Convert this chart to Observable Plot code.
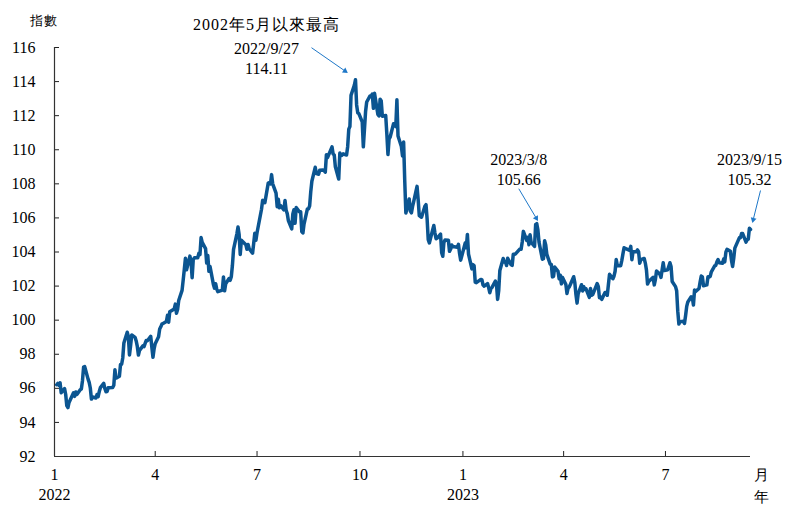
<!DOCTYPE html>
<html>
<head>
<meta charset="utf-8">
<script src="https://cdn.jsdelivr.net/npm/d3@7"></script>
<script src="https://cdn.jsdelivr.net/npm/@observablehq/plot@0.6"></script>
<style>
  html, body { margin: 0; padding: 0; background: #fff; }
  #chart svg, #chart svg text { font-family: "Liberation Serif", Tinos, "Times New Roman", Times, serif !important; }
  #chart svg text.cjk { letter-spacing: 1px; }
</style>
</head>
<body>
<div id="chart"></div>
<script>
// ---------- data (US dollar index, daily close) ----------
const series2022 = [
  ["01-03",96.21],["01-04",96.29],["01-05",96.18],["01-06",96.32],["01-07",95.74],["01-10",95.99],["01-11",95.64],["01-12",94.98],["01-13",94.87],["01-14",95.17],["01-18",95.74],["01-19",95.53],["01-20",95.79],["01-21",95.64],["01-24",95.92],["01-25",95.96],["01-26",96.45],["01-27",97.24],["01-28",97.27],["01-31",96.54],
  ["02-01",96.35],["02-02",96.02],["02-03",95.37],["02-04",95.49],["02-07",95.43],["02-08",95.63],["02-09",95.51],["02-10",95.81],["02-11",96.04],["02-14",96.29],["02-15",95.99],["02-16",95.80],["02-17",95.81],["02-18",96.03],["02-22",96.05],["02-23",96.18],["02-24",97.09],["02-25",96.60],["02-28",96.71],
  ["03-01",97.40],["03-02",97.41],["03-03",97.78],["03-04",98.66],["03-07",99.29],["03-08",99.05],["03-09",97.96],["03-10",98.49],["03-11",99.13],["03-14",98.99],["03-15",98.78],["03-16",98.46],["03-17",97.95],["03-18",98.23],["03-21",98.49],["03-22",98.45],["03-23",98.64],["03-24",98.81],["03-25",98.79],["03-28",99.05],["03-29",98.41],["03-30",97.82],["03-31",98.31],
  ["04-01",98.62],["04-04",99.03],["04-05",99.48],["04-06",99.61],["04-07",99.77],["04-08",99.81],["04-11",99.92],["04-12",100.29],["04-13",99.88],["04-14",100.50],["04-18",100.66],["04-19",100.94],["04-20",100.40],["04-21",100.62],["04-22",101.15],["04-25",101.75],["04-26",102.35],["04-27",102.97],["04-28",103.63],["04-29",102.96],
  ["05-02",103.76],["05-03",103.46],["05-04",102.49],["05-05",103.55],["05-06",103.66],["05-09",103.66],["05-10",103.92],["05-11",103.85],["05-12",104.85],["05-13",104.56],["05-16",104.20],["05-17",103.35],["05-18",103.79],["05-19",102.87],["05-20",103.15],["05-23",102.10],["05-24",101.88],["05-25",102.14],["05-26",101.82],["05-27",101.67],["05-31",101.76],
  ["06-01",102.54],["06-02",101.72],["06-03",102.14],["06-06",102.44],["06-07",102.34],["06-08",102.55],["06-09",103.22],["06-10",104.15],["06-13",105.07],["06-14",105.47],["06-15",105.02],["06-16",103.86],["06-17",104.69],["06-21",104.43],["06-22",104.16],["06-23",104.44],["06-24",104.19],["06-27",103.93],["06-28",104.50],["06-29",105.10],["06-30",104.69],
  ["07-01",105.13],["07-05",106.51],["07-06",107.03],["07-07",107.02],["07-08",106.89],["07-11",108.04],["07-12",108.07],["07-13",107.99],["07-14",108.54],["07-15",108.00],["07-18",107.46],["07-19",106.66],["07-20",107.10],["07-21",106.60],["07-22",106.73],["07-25",106.47],["07-26",107.02],["07-27",106.45],["07-28",106.25],["07-29",105.85],
  ["08-01",105.36],["08-02",106.23],["08-03",106.48],["08-04",105.69],["08-05",106.61],["08-08",106.35],["08-09",106.36],["08-10",105.20],["08-11",105.12],["08-12",105.64],["08-15",106.53],["08-16",106.53],["08-17",106.70],["08-18",107.53],["08-19",108.15],["08-22",108.97],["08-23",108.60],["08-24",108.58],["08-25",108.56],["08-26",108.80],["08-29",108.81],["08-30",108.77],["08-31",108.69],
  ["09-01",109.71],["09-02",109.54],["09-06",110.17],["09-07",109.75],["09-08",109.69],["09-09",109.00],["09-12",108.28],["09-13",109.81],["09-14",109.66],["09-15",109.68],["09-16",109.76],["09-19",109.69],["09-20",110.18],["09-21",111.21],["09-22",111.36],["09-23",113.19],["09-26",113.80],["09-27",114.11],["09-28",112.63],["09-29",112.17],["09-30",112.12],
  ["10-03",111.63],["10-04",110.17],["10-05",111.19],["10-06",112.24],["10-07",112.80],["10-10",113.16],["10-11",113.15],["10-12",113.27],["10-13",112.43],["10-14",113.31],["10-17",112.07],["10-18",111.99],["10-19",112.97],["10-20",112.86],["10-21",111.97],["10-24",112.01],["10-25",110.93],["10-26",109.72],["10-27",110.62],["10-28",110.75],["10-31",111.53],
  ["11-01",111.45],["11-02",111.36],["11-03",112.93],["11-04",110.81],["11-07",110.19],["11-08",109.64],["11-09",110.45],["11-10",108.18],["11-11",106.29],["11-14",107.11],["11-15",106.40],["11-16",106.30],["11-17",106.68],["11-18",106.96],["11-21",107.85],["11-22",107.07],["11-23",106.14],["11-25",106.04],["11-28",106.68],["11-29",106.78],["11-30",105.94],
  ["12-01",104.72],["12-02",104.53],["12-05",105.31],["12-06",105.56],["12-07",105.11],["12-08",104.78],["12-09",104.82],["12-12",105.05],["12-13",103.96],["12-14",103.75],["12-15",104.56],["12-16",104.70],["12-19",104.69],["12-20",104.04],["12-21",104.16],["12-22",104.41],["12-23",104.32],["12-27",104.28],["12-28",104.45],["12-29",103.91],["12-30",103.52]
];
const series2023 = [
  ["01-03",104.52],["01-04",104.25],["01-05",105.03],["01-06",103.88],["01-09",103.01],["01-10",103.26],["01-11",103.19],["01-12",102.23],["01-13",102.20],["01-17",102.39],["01-18",102.36],["01-19",102.06],["01-20",102.00],["01-23",102.15],["01-24",101.91],["01-25",101.61],["01-26",101.86],["01-27",101.92],["01-30",102.29],["01-31",102.10],
  ["02-01",101.22],["02-02",101.74],["02-03",102.92],["02-06",103.62],["02-07",103.41],["02-08",103.43],["02-09",103.21],["02-10",103.63],["02-13",103.26],["02-14",103.21],["02-15",103.87],["02-16",103.86],["02-17",103.89],["02-21",104.18],["02-22",104.16],["02-23",104.59],["02-24",105.21],["02-27",104.68],["02-28",104.86],
  ["03-01",104.43],["03-02",105.01],["03-03",104.56],["03-06",104.33],["03-07",105.62],["03-08",105.66],["03-09",105.30],["03-10",104.58],["03-13",103.58],["03-14",103.61],["03-15",104.66],["03-16",104.42],["03-17",103.86],["03-20",103.28],["03-21",103.27],["03-22",102.54],["03-23",102.57],["03-24",103.12],["03-27",102.86],["03-28",102.43],["03-29",102.64],["03-30",102.13],["03-31",102.51],
  ["04-03",102.09],["04-04",101.57],["04-05",101.88],["04-06",101.95],["04-07",102.09],["04-10",102.55],["04-11",102.20],["04-12",101.50],["04-13",101.00],["04-14",101.55],["04-17",102.08],["04-18",101.71],["04-19",101.96],["04-20",101.82],["04-21",101.84],["04-24",101.34],["04-25",101.86],["04-26",101.46],["04-27",101.50],["04-28",101.66],
  ["05-01",102.15],["05-02",101.97],["05-03",101.32],["05-04",101.36],["05-05",101.22],["05-08",101.63],["05-09",101.63],["05-10",101.46],["05-11",102.08],["05-12",102.69],["05-15",102.43],["05-16",102.58],["05-17",102.87],["05-18",103.56],["05-19",103.20],["05-22",103.20],["05-23",103.51],["05-24",103.89],["05-25",104.25],["05-26",104.21],["05-30",104.10],["05-31",104.33],
  ["06-01",103.55],["06-02",104.02],["06-05",104.02],["06-06",104.12],["06-07",104.02],["06-08",103.34],["06-09",103.55],["06-12",103.62],["06-13",103.35],["06-14",102.95],["06-15",102.12],["06-16",102.27],["06-20",102.51],["06-21",102.07],["06-22",102.38],["06-23",102.88],["06-26",102.70],["06-27",102.51],["06-28",102.95],["06-29",103.37],["06-30",102.91],
  ["07-03",102.96],["07-05",103.37],["07-06",103.15],["07-07",102.27],["07-10",101.97],["07-11",101.73],["07-12",100.53],["07-13",99.77],["07-14",99.91],["07-17",99.93],["07-18",99.81],["07-19",100.28],["07-20",100.81],["07-21",101.07],["07-24",101.37],["07-25",101.35],["07-26",100.89],["07-27",101.77],["07-28",101.69],["07-31",101.86],
  ["08-01",102.25],["08-02",102.59],["08-03",102.54],["08-04",102.02],["08-07",102.07],["08-08",102.55],["08-09",102.52],["08-10",102.57],["08-11",102.84],["08-14",103.19],["08-15",103.22],["08-16",103.43],["08-17",103.56],["08-18",103.37],["08-21",103.34],["08-22",103.58],["08-23",103.42],["08-24",103.99],["08-25",104.16],["08-28",104.04],["08-29",103.51],["08-30",103.15],["08-31",103.62],
  ["09-01",104.23],["09-05",104.83],["09-06",104.84],["09-07",105.08],["09-08",105.08],["09-11",104.58],["09-12",104.72],["09-13",104.75],["09-14",105.39],["09-15",105.32]
];

// ---------- axes / labels ----------
const yTicks = [92, 94, 96, 98, 100, 102, 104, 106, 108, 110, 112, 114, 116];
const monthTickDates = ["2022-01-01","2022-04-01","2022-07-01","2022-10-01","2023-01-01","2023-04-01","2023-07-01"];
const monthTickLabels = ["1","4","7","10","1","4","7"];
const yearTickDates = ["2022-01-01","2023-01-01"];
const yearTickLabels = ["2022","2023"];
const yAxisTitle = "指數";
const monthUnit = "月";
const yearUnit = "年";

// ---------- annotations ----------
const annoDates = ["2022-09-27","2023-03-08","2023-09-15"];
const annoValues = [114.11, 105.66, 105.32];
const annoLabels = ["2022/9/27\n114.11", "2023/3/8\n105.66", "2023/9/15\n105.32"];
const peakNote = "2002年5月以來最高";

// ---------- layout ----------
const W = 785, H = 505;
const ml = 54, mr = 35, mt = 47, mb = 49;
const plotW = W - ml - mr, plotH = H - mt - mb;
const lineColor = "#0b5591";
const arrowColor = "#1f78c8";
const FONT = '"Liberation Serif", Tinos, "Times New Roman", Times, serif';

const parse = d3.utcParse("%Y-%m-%d");
const data = [
  ...series2022.map(([md, v]) => ({date: parse("2022-" + md), value: v})),
  ...series2023.map(([md, v]) => ({date: parse("2023-" + md), value: v}))
];
const xDomain = [parse("2022-01-01"), parse("2023-09-15")];
const yDomain = [92, 116];

const xs = Plot.scale({x: {type: "utc", domain: xDomain, range: [ml, W - mr]}});
const ys = Plot.scale({y: {type: "linear", domain: yDomain, range: [H - mb, mt]}});

// pixel offsets for annotation placement (text centre, arrow start, arrow tip)
const annoLayout = [
  {tdx: -89, tdy: -22, ndy: -55, sx: -44, sy: -32, ex: -8, ey: -7},
  {tdx: -18, tdy: -55, sx: -18, sy: -35, ex: 1, ey: -3},
  {tdx: -1,  tdy: -61, sx: 10, sy: -39, ex: 2, ey: -7}
];

const annos = annoDates.map((d, i) => {
  const date = parse(d), value = annoValues[i], L = annoLayout[i];
  const px = xs.apply(date), py = ys.apply(value);
  const ax1 = px + L.sx, ay1 = py + L.sy, ax2 = px + L.ex, ay2 = py + L.ey;
  const len = Math.hypot(ax2 - ax1, ay2 - ay1);
  const ux = (ax2 - ax1) / len, uy = (ay2 - ay1) / len;
  const hx = ax2 - ux * 3, hy = ay2 - uy * 3; // arrowhead centroid
  return {
    label: annoLabels[i],
    tx: xs.invert(px + L.tdx), ty: ys.invert(py + L.tdy),
    nty: L.ndy != null ? ys.invert(py + L.ndy) : null,
    x1: xs.invert(ax1), y1: ys.invert(ay1),
    x2: xs.invert(ax2 - ux * 4), y2: ys.invert(ay2 - uy * 4),
    hx: xs.invert(hx), hy: ys.invert(hy),
    angle: Math.atan2(ux, -uy) * 180 / Math.PI
  };
});

const monthLabelByTime = new Map(monthTickDates.map((d, i) => [+parse(d), monthTickLabels[i]]));
const years = yearTickDates.map((d, i) => ({date: parse(d), label: yearTickLabels[i]}));

const chart = Plot.plot({
  width: W, height: H,
  marginLeft: ml, marginRight: mr, marginTop: mt, marginBottom: mb,
  style: {fontFamily: FONT, fontSize: "16px", color: "#000", background: "#fff", overflow: "visible"},
  x: {type: "utc", domain: xDomain},
  y: {type: "linear", domain: yDomain},
  marks: [
    Plot.axisY({ticks: yTicks, tickSize: 0, tickPadding: 19, label: null, fontSize: 16, fontFamily: FONT, tickFormat: d => String(d)}),
    Plot.axisX({ticks: monthTickDates.map(parse), tickSize: 0, tickPadding: 12, label: null, fontSize: 16, fontFamily: FONT,
                tickFormat: d => monthLabelByTime.get(+d)}),
    Plot.tickY(yTicks, {y: d => d, insetRight: plotW - 5, stroke: "#222", strokeWidth: 1}),
    Plot.tickX(monthTickDates.map(parse), {x: d => d, insetTop: plotH - 5, stroke: "#222", strokeWidth: 1}),
    Plot.ruleY([yDomain[0]], {stroke: "#333", strokeWidth: 1.2}),
    Plot.ruleX([xDomain[0]], {stroke: "#333", strokeWidth: 1.2}),
    Plot.text(years, {x: "date", text: "label", frameAnchor: "bottom", dy: 38, lineAnchor: "middle", fontSize: 16, fontFamily: FONT}),
    Plot.text([yAxisTitle], {text: d => d, frameAnchor: "top-left", dx: -25, dy: -27, fontSize: 13, lineAnchor: "middle", fontFamily: FONT}),
    Plot.text([monthUnit], {text: d => d, frameAnchor: "bottom-right", dx: 18, dy: 19, fontSize: 15, lineAnchor: "middle", fontFamily: FONT}),
    Plot.text([yearUnit], {text: d => d, frameAnchor: "bottom-right", dx: 18, dy: 41, fontSize: 15, lineAnchor: "middle", fontFamily: FONT}),
    Plot.lineY(data, {x: "date", y: "value", stroke: lineColor, strokeWidth: 3.5, strokeLinejoin: "round", strokeLinecap: "round"}),
    Plot.link(annos, {x1: "x1", y1: "y1", x2: "x2", y2: "y2", stroke: arrowColor, strokeWidth: 1}),
    Plot.dot(annos, {x: "hx", y: "hy", symbol: "triangle2", r: 2.8, fill: arrowColor, stroke: "none", rotate: "angle"}),
    Plot.text(annos, {x: "tx", y: "ty", text: "label", lineAnchor: "middle", lineHeight: 1.25, fontSize: 16, fill: "#000", fontFamily: FONT}),
    Plot.text(annos.filter(a => a.nty != null), {x: "tx", y: "nty", text: () => peakNote, lineAnchor: "middle", fontSize: 16, fill: "#000", fontFamily: FONT})
  ]
});

// widen the CJK note slightly, as in the reference typesetting
d3.select(chart).selectAll("text").filter(function() { return this.textContent === peakNote || this.textContent === yAxisTitle; }).classed("cjk", true);

document.getElementById("chart").appendChild(chart);
</script>
</body>
</html>
